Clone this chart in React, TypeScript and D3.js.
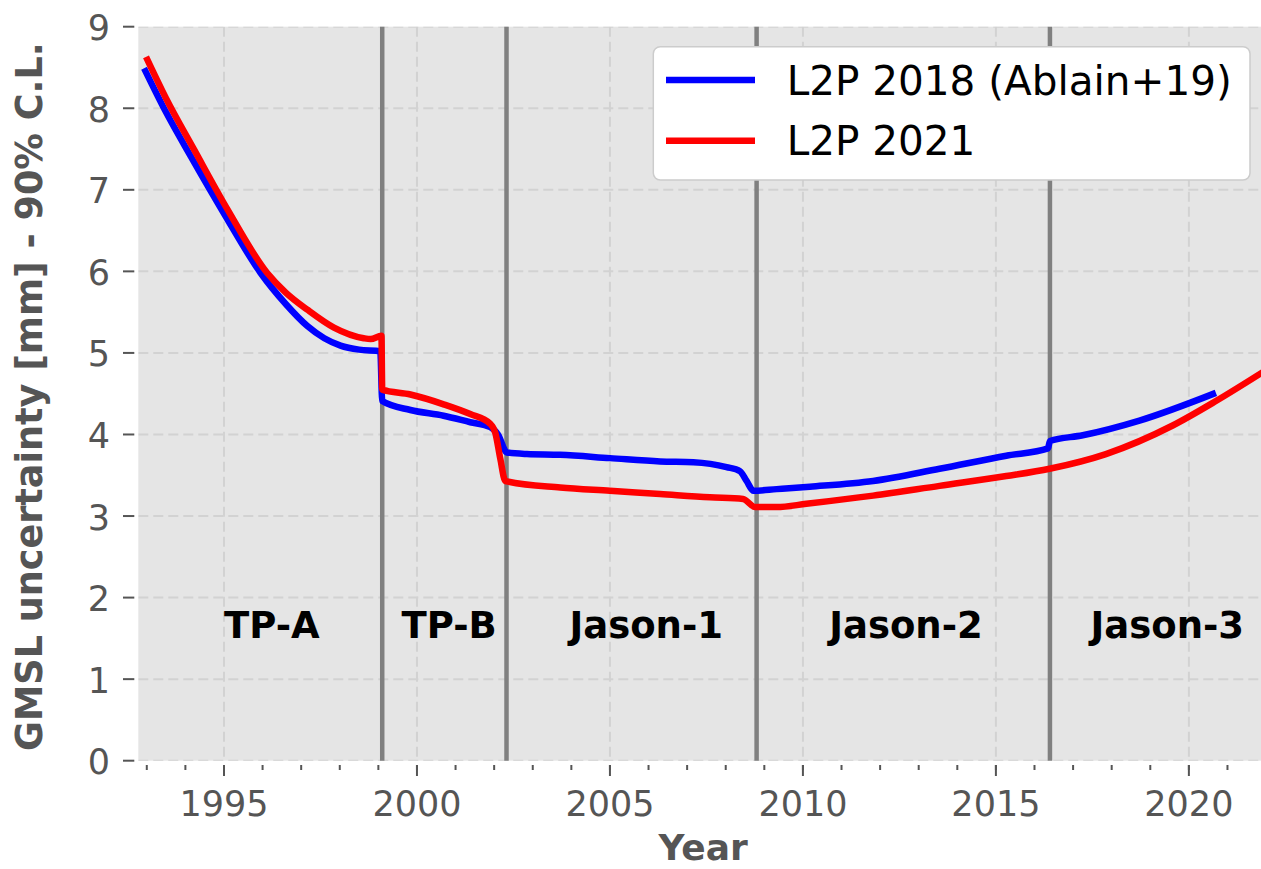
import React from 'react'
import * as d3 from 'd3'

// L2P 2018 (Ablain+19)
const blueYears = [1992.93, 1993.5, 1994.14, 1995.0, 1995.95, 1996.6, 1997.16, 1997.6, 1998.02, 1998.5, 1999.05, 1999.1, 1999.83, 2000.69, 2001.38, 2001.9, 2002.1, 2002.33, 2002.85, 2003.71, 2005.0, 2006.3, 2007.16, 2008.02, 2008.37, 2008.54, 2008.72, 2009.32, 2010.18, 2011.82, 2013.54, 2015.27, 2016.35, 2016.4, 2017.25, 2018.72, 2020.7]
const blueVals = [8.49, 7.95, 7.41, 6.71, 5.98, 5.6, 5.33, 5.18, 5.09, 5.04, 5.02, 4.41, 4.3, 4.23, 4.15, 4.09, 4.0, 3.78, 3.76, 3.75, 3.71, 3.67, 3.66, 3.6, 3.55, 3.43, 3.31, 3.33, 3.36, 3.43, 3.58, 3.74, 3.83, 3.92, 3.99, 4.17, 4.51]

// L2P 2021
const redYears = [1992.98, 1993.5, 1994.23, 1995.09, 1996.12, 1996.6, 1997.16, 1997.85, 1998.62, 1998.8, 1999.08, 1999.1, 1999.83, 2000.69, 2001.38, 2001.9, 2002.03, 2002.16, 2002.29, 2003.71, 2005.0, 2006.3, 2007.59, 2008.45, 2008.76, 2009.32, 2010.09, 2011.82, 2013.54, 2015.27, 2016.39, 2017.85, 2019.58, 2020.7, 2022.0]
const redVals = [8.63, 8.12, 7.49, 6.76, 5.98, 5.74, 5.53, 5.31, 5.18, 5.17, 5.21, 4.55, 4.49, 4.37, 4.25, 4.13, 4.02, 3.7, 3.43, 3.35, 3.31, 3.27, 3.23, 3.21, 3.11, 3.11, 3.15, 3.25, 3.37, 3.49, 3.58, 3.76, 4.11, 4.41, 4.79]

// mission changes and labels
const missionChanges = [1999.1, 2002.32, 2008.8, 2016.4]
const missionNames = ['TP-A', 'TP-B', 'Jason-1', 'Jason-2', 'Jason-3']
const missionLabelYears = [1995.0, 1999.6, 2003.95, 2010.68, 2017.45]
const missionLabelY = 1.5

const majorYears = [1995, 2000, 2005, 2010, 2015, 2020]
const minorYears = d3.range(1993, 2022)
const yTicks = [0, 1, 2, 3, 4, 5, 6, 7, 8, 9]

const series = [
  { name: 'L2P 2018 (Ablain+19)', color: '#0000ff', years: blueYears, vals: blueVals },
  { name: 'L2P 2021', color: '#ff0000', years: redYears, vals: redVals },
]

const W = 1261
const H = 869
const left = 138.3
const right = 1268
const top = 26.7
const bottom = 760.7

const grey = '#555555'
const font = 'DejaVu Sans, sans-serif'

export default function App() {
  const x = d3.scaleLinear().domain([1992.78, 2022.05]).range([left, right])
  const y = d3.scaleLinear().domain([0, 9]).range([bottom, top])

  const line = d3.line<[number, number]>()
    .x(d => x(d[0]))
    .y(d => y(d[1]))
    .curve(d3.curveMonotoneX)

  return (
    <svg width={W} height={H} style={{ position: 'absolute', left: 0, top: 0 }} fontFamily={font}>
      <defs>
        <clipPath id="plotClip">
          <rect x={left} y={top} width={right - left} height={bottom - top} />
        </clipPath>
      </defs>
      <rect x={0} y={0} width={W} height={H} fill="#ffffff" />
      <rect x={left} y={top} width={right - left} height={bottom - top} fill="#e5e5e5" />

      {/* grid */}
      <g stroke="#d2d2d2" strokeWidth={2} strokeDasharray="10,5" clipPath="url(#plotClip)">
        {yTicks.map(t => (
          <line key={'gy' + t} x1={left} x2={right} y1={y(t)} y2={y(t)} />
        ))}
        {majorYears.map(t => (
          <line key={'gx' + t} x1={x(t)} x2={x(t)} y1={top} y2={bottom} />
        ))}
      </g>

      {/* mission boundaries */}
      <g stroke="#808080" strokeWidth={4.5}>
        {missionChanges.map(t => (
          <line key={'m' + t} x1={x(t)} x2={x(t)} y1={top} y2={bottom} />
        ))}
      </g>

      {/* series */}
      <g clipPath="url(#plotClip)" fill="none" strokeWidth={6.5} strokeLinejoin="round">
        {series.map(s => (
          <path key={s.name} d={line(s.years.map((yr, i) => [yr, s.vals[i]] as [number, number])) || ''} stroke={s.color} />
        ))}
      </g>

      {/* mission labels */}
      {missionNames.map((n, i) => (
        <text key={n} x={x(missionLabelYears[i])} y={y(missionLabelY)} fontSize={37} fontWeight="bold" fill="#000000">
          {n}
        </text>
      ))}

      {/* y axis */}
      <g>
        {yTicks.map(t => (
          <g key={'yt' + t}>
            <line x1={123} x2={134.3} y1={y(t)} y2={y(t)} stroke={grey} strokeWidth={2} />
            <text x={110} y={y(t) + 13.5} textAnchor="end" fontSize={35} fill={grey}>{t}</text>
          </g>
        ))}
      </g>

      {/* x axis */}
      <g>
        {minorYears.map(t => (
          <line key={'mx' + t} x1={x(t)} x2={x(t)} y1={765} y2={770} stroke={grey} strokeWidth={2} />
        ))}
        {majorYears.map(t => (
          <g key={'xt' + t}>
            <line x1={x(t)} x2={x(t)} y1={765} y2={776} stroke={grey} strokeWidth={2} />
            <text x={x(t)} y={816} textAnchor="middle" fontSize={35} fill={grey}>{t}</text>
          </g>
        ))}
      </g>

      <text x={(left + right) / 2} y={860} textAnchor="middle" fontSize={36} fontWeight="bold" fill={grey}>Year</text>
      <text transform={`translate(41.7, ${(top + bottom) / 2 + 3}) rotate(-90)`} textAnchor="middle" fontSize={36.6} fontWeight="bold" fill={grey}>
        GMSL uncertainty [mm] - 90% C.L.
      </text>

      {/* legend */}
      <g>
        <rect x={653.3} y={46.7} width={1250 - 653.3} height={180 - 46.7} rx={7} fill="#ffffff" stroke="#cccccc" strokeWidth={1.5} />
        {series.map((s, i) => (
          <g key={'lg' + s.name}>
            <line x1={666} x2={755} y1={80 + i * 60.7} y2={80 + i * 60.7} stroke={s.color} strokeWidth={6.5} />
            <text x={786.7} y={95 + i * 60} fontSize={40.5} fill="#000000">{s.name}</text>
          </g>
        ))}
      </g>
    </svg>
  )
}
